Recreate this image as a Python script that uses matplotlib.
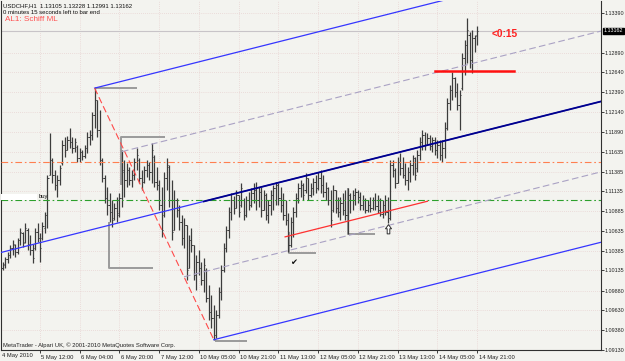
import matplotlib
matplotlib.use("Agg")
import matplotlib.pyplot as plt
import matplotlib.transforms as mtrans
from matplotlib.patches import Rectangle
from matplotlib.path import Path
import numpy as np

plt.rcParams['font.family'] = ['Liberation Sans', 'DejaVu Sans']

# ---------------- data (USDCHF H1 bars) ----------------
opens = [1.1017, 1.1020, 1.1028, 1.1033, 1.1042, 1.1046, 1.1037, 1.1052, 1.1061, 1.1050,
         1.1065, 1.1047, 1.1039, 1.1042, 1.1062, 1.1055, 1.1055, 1.1067, 1.1084, 1.1134,
         1.1153, 1.1134, 1.1122, 1.1128, 1.1149, 1.1172, 1.1166, 1.1178, 1.1176, 1.1168,
         1.1170, 1.1156, 1.1163, 1.1158, 1.1168, 1.1182, 1.1185, 1.1210, 1.1229, 1.1191,
         1.1153, 1.1130, 1.1105, 1.1096, 1.1087, 1.1080, 1.1092, 1.1086, 1.1105, 1.1138,
         1.1128, 1.1141, 1.1128, 1.1134, 1.1151, 1.1153, 1.1130, 1.1125, 1.1141, 1.1147,
         1.1138, 1.1157, 1.1125, 1.1122, 1.1096, 1.1084, 1.1130, 1.1144, 1.1103, 1.1065,
         1.1103, 1.1090, 1.1075, 1.1055, 1.1071, 1.1017, 1.1052, 1.1046, 1.1008, 1.1024,
         1.1017, 1.1002, 1.1014, 1.0979, 1.0961, 1.0954, 1.0932, 1.0957, 1.0986, 1.1014,
         1.1042, 1.1065, 1.1087, 1.1103, 1.1093, 1.1109, 1.1096, 1.1103, 1.1084, 1.1103,
         1.1096, 1.1111, 1.1115, 1.1103, 1.1113, 1.1090, 1.1109, 1.1084, 1.1096, 1.1109,
         1.1118, 1.1122, 1.1105, 1.1096, 1.1084, 1.1077, 1.1046, 1.1075, 1.1087, 1.1105,
         1.1118, 1.1122, 1.1115, 1.1130, 1.1109, 1.1118, 1.1125, 1.1118, 1.1130, 1.1122,
         1.1113, 1.1118, 1.1103, 1.1090, 1.1115, 1.1092, 1.1087, 1.1099, 1.1090, 1.1084,
         1.1109, 1.1103, 1.1109, 1.1113, 1.1106, 1.1096, 1.1103, 1.1090, 1.1096, 1.1092,
         1.1103, 1.1095, 1.1090, 1.1085, 1.1096, 1.1087, 1.1080, 1.1147, 1.1141, 1.1124,
         1.1151, 1.1143, 1.1134, 1.1128, 1.1138, 1.1147, 1.1156, 1.1143, 1.1160, 1.1176,
         1.1185, 1.1172, 1.1181, 1.1171, 1.1178, 1.1166, 1.1172, 1.1160, 1.1168, 1.1194,
         1.1225, 1.1242, 1.1257, 1.1239, 1.1223, 1.1244, 1.1282, 1.1299, 1.1311, 1.1280,
         1.1307, 1.13105]
highs = [1.1024, 1.1031, 1.1037, 1.1046, 1.1052, 1.1047, 1.1055, 1.1067, 1.1062, 1.1074,
         1.1067, 1.1058, 1.1047, 1.1067, 1.1074, 1.1061, 1.1075, 1.1087, 1.1134, 1.1187,
         1.1156, 1.1141, 1.1134, 1.1147, 1.1178, 1.1182, 1.1184, 1.1194, 1.1182, 1.1181,
         1.1172, 1.1168, 1.1166, 1.1172, 1.1189, 1.1191, 1.1214, 1.1244, 1.1229, 1.1216,
         1.1156, 1.1134, 1.1119, 1.1111, 1.1103, 1.1099, 1.1106, 1.1111, 1.1166, 1.1153,
         1.1149, 1.1144, 1.1141, 1.1156, 1.1168, 1.1156, 1.1141, 1.1146, 1.1153, 1.1151,
         1.1175, 1.1160, 1.1144, 1.1128, 1.1119, 1.1138, 1.1156, 1.1147, 1.1128, 1.1115,
         1.1105, 1.1096, 1.1084, 1.1080, 1.1071, 1.1058, 1.1067, 1.1046, 1.1033, 1.1039,
         1.1024, 1.1029, 1.1017, 1.0995, 1.0983, 1.0970, 1.0964, 1.0993, 1.1020, 1.1048,
         1.1070, 1.1094, 1.1111, 1.1108, 1.1115, 1.1109, 1.1124, 1.1105, 1.1108, 1.1113,
         1.1118, 1.1124, 1.1125, 1.1119, 1.1119, 1.1115, 1.1111, 1.1103, 1.1115, 1.1122,
         1.1125, 1.1124, 1.1119, 1.1111, 1.1103, 1.1086, 1.1081, 1.1094, 1.1111, 1.1124,
         1.1128, 1.1124, 1.1137, 1.1130, 1.1124, 1.1130, 1.1134, 1.1138, 1.1141, 1.1134,
         1.1125, 1.1119, 1.1115, 1.1122, 1.1115, 1.1106, 1.1106, 1.1111, 1.1115, 1.1118,
         1.1111, 1.1115, 1.1118, 1.1115, 1.1113, 1.1109, 1.1105, 1.1103, 1.1106, 1.1106,
         1.1111, 1.1109, 1.1105, 1.1103, 1.1109, 1.1106, 1.1153, 1.1153, 1.1143, 1.1157,
         1.1162, 1.1157, 1.1149, 1.1144, 1.1153, 1.1160, 1.1157, 1.1166, 1.1182, 1.1191,
         1.1189, 1.1187, 1.1185, 1.1182, 1.1182, 1.1178, 1.1178, 1.1178, 1.1201, 1.1232,
         1.1248, 1.1264, 1.1258, 1.1251, 1.1242, 1.1288, 1.1305, 1.1333, 1.1315, 1.1318,
         1.1311, 1.13228]
lows = [1.1014, 1.1017, 1.1023, 1.1029, 1.1033, 1.1031, 1.1034, 1.1046, 1.1043, 1.1048,
        1.1039, 1.1033, 1.1023, 1.1039, 1.1050, 1.1024, 1.1052, 1.1061, 1.1067, 1.1134,
        1.1124, 1.1115, 1.1106, 1.1122, 1.1147, 1.1157, 1.1166, 1.1168, 1.1162, 1.1163,
        1.1151, 1.1151, 1.1153, 1.1156, 1.1162, 1.1172, 1.1178, 1.1194, 1.1182, 1.1147,
        1.1125, 1.1099, 1.1084, 1.1075, 1.1068, 1.1077, 1.1075, 1.1081, 1.1094, 1.1106,
        1.1119, 1.1122, 1.1119, 1.1128, 1.1141, 1.1124, 1.1115, 1.1124, 1.1132, 1.1128,
        1.1124, 1.1119, 1.1115, 1.1090, 1.1056, 1.1081, 1.1115, 1.1094, 1.1052, 1.1065,
        1.1081, 1.1065, 1.1046, 1.1042, 1.1002, 1.1017, 1.1037, 1.1002, 1.0989, 1.1008,
        1.0995, 1.0986, 1.0974, 1.0951, 1.0941, 1.0926, 1.0928, 1.0954, 1.0976, 1.1012,
        1.1037, 1.1055, 1.1077, 1.1085, 1.1093, 1.1081, 1.1094, 1.1077, 1.1081, 1.1090,
        1.1094, 1.1099, 1.1090, 1.1094, 1.1081, 1.1090, 1.1077, 1.1074, 1.1084, 1.1090,
        1.1096, 1.1096, 1.1087, 1.1077, 1.1071, 1.1037, 1.1043, 1.1056, 1.1081, 1.1099,
        1.1106, 1.1103, 1.1111, 1.1103, 1.1106, 1.1109, 1.1111, 1.1115, 1.1111, 1.1106,
        1.1103, 1.1096, 1.1068, 1.1087, 1.1086, 1.1081, 1.1077, 1.1084, 1.1077, 1.1060,
        1.1086, 1.1090, 1.1096, 1.1099, 1.1090, 1.1090, 1.1086, 1.1087, 1.1087, 1.1090,
        1.1090, 1.1086, 1.1082, 1.1080, 1.1084, 1.1074, 1.1077, 1.1132, 1.1118, 1.1124,
        1.1134, 1.1130, 1.1122, 1.1115, 1.1125, 1.1134, 1.1128, 1.1138, 1.1153, 1.1166,
        1.1166, 1.1172, 1.1166, 1.1163, 1.1160, 1.1156, 1.1153, 1.1151, 1.1156, 1.1191,
        1.1216, 1.1229, 1.1233, 1.1216, 1.1191, 1.1242, 1.1261, 1.1276, 1.1270, 1.1263,
        1.1290, 1.12991]
closes = [1.1022, 1.1028, 1.1033, 1.1042, 1.1047, 1.1037, 1.1052, 1.1062, 1.1048, 1.1067,
          1.1046, 1.1039, 1.1029, 1.1062, 1.1055, 1.1042, 1.1070, 1.1084, 1.1130, 1.1153,
          1.1134, 1.1122, 1.1128, 1.1143, 1.1172, 1.1166, 1.1178, 1.1176, 1.1168, 1.1176,
          1.1156, 1.1163, 1.1158, 1.1168, 1.1182, 1.1185, 1.1210, 1.1229, 1.1191, 1.1153,
          1.1130, 1.1105, 1.1096, 1.1087, 1.1077, 1.1092, 1.1084, 1.1105, 1.1141, 1.1128,
          1.1141, 1.1128, 1.1134, 1.1151, 1.1160, 1.1130, 1.1125, 1.1141, 1.1147, 1.1138,
          1.1166, 1.1125, 1.1122, 1.1096, 1.1065, 1.1130, 1.1147, 1.1103, 1.1062, 1.1103,
          1.1090, 1.1075, 1.1055, 1.1071, 1.1014, 1.1052, 1.1046, 1.1008, 1.1024, 1.1017,
          1.1002, 1.1020, 1.0979, 1.0961, 1.0954, 1.0932, 1.0957, 1.0986, 1.1014, 1.1042,
          1.1065, 1.1087, 1.1103, 1.1093, 1.1109, 1.1087, 1.1118, 1.1084, 1.1103, 1.1096,
          1.1111, 1.1115, 1.1103, 1.1113, 1.1090, 1.1109, 1.1084, 1.1096, 1.1109, 1.1118,
          1.1122, 1.1105, 1.1096, 1.1084, 1.1077, 1.1046, 1.1075, 1.1087, 1.1105, 1.1118,
          1.1122, 1.1109, 1.1130, 1.1109, 1.1118, 1.1125, 1.1118, 1.1130, 1.1122, 1.1113,
          1.1118, 1.1103, 1.1077, 1.1115, 1.1092, 1.1087, 1.1099, 1.1090, 1.1084, 1.1109,
          1.1103, 1.1109, 1.1113, 1.1106, 1.1096, 1.1103, 1.1090, 1.1096, 1.1092, 1.1103,
          1.1095, 1.1090, 1.1085, 1.1096, 1.1087, 1.1080, 1.1147, 1.1141, 1.1124, 1.1151,
          1.1143, 1.1134, 1.1128, 1.1138, 1.1147, 1.1156, 1.1134, 1.1160, 1.1176, 1.1185,
          1.1172, 1.1181, 1.1171, 1.1178, 1.1166, 1.1172, 1.1160, 1.1168, 1.1194, 1.1225,
          1.1242, 1.1257, 1.1239, 1.1223, 1.1235, 1.1282, 1.1299, 1.1318, 1.1280, 1.1307,
          1.1310, 1.13162]

time_tick_bars = [15, 31, 47, 63, 79, 95, 111, 127, 143, 159, 175, 191]
time_tick_labels = ['5 May 12:00', '6 May 04:00', '6 May 20:00', '7 May 12:00',
                    '10 May 05:00', '10 May 21:00', '11 May 13:00', '12 May 05:00',
                    '12 May 21:00', '13 May 13:00', '14 May 05:00', '14 May 21:00']
first_date_label = '4 May 2010'
price_ticks = [1.13390, 1.12890, 1.12640, 1.12390, 1.12140, 1.11890, 1.11635, 1.11385,
               1.11135, 1.10885, 1.10635, 1.10385, 1.10135, 1.09880, 1.09630, 1.09380,
               1.09130]

# chart objects (bar index, price)
pf_bars = [37, 85]                 # pitchfork pivot high / pivot low
pf_prices = [1.1244, 1.0926]
pf_origin = (-20, 1.1021)          # Schiff median-line origin
half_line_start = [48, 73]         # warning lines (upper, lower)
navy_start = 81
orange_level = 1.1150
green_level = 1.1102
red_trend_bars = [113.7, 171]
red_trend_prices = [1.1056, 1.1101]
red_level_bars = [174, 206]
red_level = 1.1265
brackets = [
    ([37, 54], [1.1244, 1.1244]),
    ([47.6, 47.6, 65.3], [1.1122, 1.1182, 1.1182]),
    ([42.8, 42.8, 60.5], [1.1075, 1.1017, 1.1017]),
    ([85.5, 98.4], [1.0924, 1.0924]),
    ([115.3, 115.3, 126.2], [1.1062, 1.1036, 1.1036]),
    ([139, 139, 150], [1.1118, 1.1060, 1.1060]),
]
check_mark = (116.9, 1.1023)
up_arrow = (155.2, 1.1066)
buy_box = (-0.7, 13.8, 1.1103, 1.1110)
buy_text = (14.6, 1.1107)
timer_pos = (197, 1.1312)

# ---------------- figure ----------------
BG = '#f3f3ef'
fig = plt.figure(figsize=(6.25, 3.61), dpi=100, facecolor=BG)
ax = fig.add_axes([1 / 625, 11 / 361, 600 / 625, 349 / 361], facecolor=BG)
ax.set_xlim(-0.7, 240.9)
ax.set_ylim(1.0913, 1.13541)
x0, x1 = ax.get_xlim()

# grid
ax.set_axisbelow(True)
ax.grid(True, color='#e4c6c6', lw=0.5, ls=(0, (1, 2)))

# bars
idx = np.arange(len(closes))
bar_c = '#3c3c3c'
ax.vlines(idx, lows, highs, color=bar_c, lw=0.9, zorder=3)
ax.hlines(opens, idx - 0.5, idx, color=bar_c, lw=0.7, zorder=3)
ax.hlines(closes, idx, idx + 0.5, color=bar_c, lw=0.7, zorder=3)

# horizontal levels
ax.axhline(closes[-1], color='#c8c4c8', lw=0.8, zorder=2)
ax.axhline(orange_level, color='#ff7f50', lw=0.8, ls=(0, (6, 2.5, 1.5, 2.5)), zorder=4)
ax.axhline(green_level, color='#2ca02c', lw=0.8, ls=(0, (6, 2.5, 1.5, 2.5)), zorder=4)

# pitchfork
ox, op = pf_origin
mx = (pf_bars[0] + pf_bars[1]) / 2
mp = (pf_prices[0] + pf_prices[1]) / 2
slope = (mp - op) / (mx - ox)


def med(x):
    return op + slope * (x - ox)


up_off = pf_prices[0] - med(pf_bars[0])
lo_off = pf_prices[1] - med(pf_bars[1])
blue = '#3535ff'
ax.plot([x0, x1], [med(x0), med(x1)], color=blue, lw=0.9, zorder=5)
ax.plot([navy_start, x1], [med(navy_start), med(x1)], color='#00008b', lw=1.3, zorder=5)
ax.plot([pf_bars[0], x1], [pf_prices[0], med(x1) + up_off], color=blue, lw=0.9, zorder=5)
ax.plot([pf_bars[1], x1], [pf_prices[1], med(x1) + lo_off], color=blue, lw=0.9, zorder=5)
for s, off in zip(half_line_start, [up_off / 2, lo_off / 2]):
    ax.plot([s, x1], [med(s) + off, med(x1) + off], color='#aaa2c4', lw=0.8,
            ls=(0, (6, 3)), zorder=4)
ax.plot(pf_bars, pf_prices, color='#ff4a4a', lw=0.8, ls=(0, (6, 3)), zorder=5)

# red objects
ax.plot(red_trend_bars, red_trend_prices, color='#ff3030', lw=0.9, zorder=5)
ax.plot(red_level_bars, [red_level, red_level], color='#ff1010', lw=1.8, zorder=5)

# gray brackets
for bx, bp in brackets:
    ax.plot(bx, bp, color='#9a9a9a', lw=1.4, zorder=2.5, solid_capstyle='butt')

# markers
ax.text(check_mark[0], check_mark[1], '\u2714', fontsize=6, ha='center', va='center',
        color='#101010', family='DejaVu Sans', zorder=6)
arrow_path = Path([(0, 1), (-0.62, 0.15), (-0.27, 0.15), (-0.27, -0.9), (0.27, -0.9),
                   (0.27, 0.15), (0.62, 0.15), (0, 1)],
                  [Path.MOVETO] + [Path.LINETO] * 6 + [Path.CLOSEPOLY])
ax.plot([up_arrow[0]], [up_arrow[1]], marker=arrow_path, markersize=7,
        markerfacecolor='white', markeredgecolor='#303030', markeredgewidth=0.7,
        linestyle='none', zorder=6)

# buy label
ax.add_patch(Rectangle((buy_box[0], buy_box[2]), buy_box[1] - buy_box[0],
                       buy_box[3] - buy_box[2], facecolor='white', edgecolor='none',
                       zorder=6, clip_on=True))
ax.text(buy_text[0], buy_text[1], 'buy', fontsize=4.2, ha='left', va='center',
        color='#101010', zorder=6)

# timer text
ax.text(timer_pos[0], timer_pos[1], '<0:15', fontsize=7.3, ha='left', va='center',
        color='#ff2020', fontweight='bold', zorder=6)

# axes styling
for side in ['left', 'right', 'bottom']:
    ax.spines[side].set_color('#303030')
    ax.spines[side].set_linewidth(0.8)
ax.spines['top'].set_visible(False)

ax.yaxis.tick_right()
ax.set_yticks(price_ticks)
ax.set_yticklabels([f'{v:.5f}' for v in price_ticks])
ax.tick_params(axis='y', length=2, width=0.6, pad=0.8, labelsize=3.9,
               colors='#202020')
ax.set_xticks(time_tick_bars)
ax.set_xticklabels(time_tick_labels)
ax.tick_params(axis='x', length=2.5, width=0.6, pad=1.0, labelsize=4.2, colors='#202020')
offset = mtrans.ScaledTranslation(1.5 / 100, 0, fig.dpi_scale_trans)
for lab in ax.get_xticklabels():
    lab.set_horizontalalignment('left')
    lab.set_transform(lab.get_transform() + offset)

fig.text(2 / 625, 1 - 356 / 361, first_date_label, fontsize=4.2, ha='left',
         va='center', color='#202020')

# current price box
tr = mtrans.blended_transform_factory(ax.transAxes, ax.transData)
ax.text(1.005, closes[-1], f'{closes[-1]:.5f}', transform=tr, ha='left', va='center',
        fontsize=3.9, color='white', clip_on=False, zorder=10,
        bbox=dict(boxstyle='square,pad=0.12', facecolor='black', edgecolor='black'))

# header / footer texts
fig.text(3 / 625, 1 - 6 / 361,
         f'USDCHF,H1  {opens[-1]:.5f} {highs[-1]:.5f} {lows[-1]:.5f} {closes[-1]:.5f}',
         fontsize=4.3, ha='left', va='center', color='#101010')
fig.text(3 / 625, 1 - 12.5 / 361, '0 minutes 15 seconds left to bar end', fontsize=4.3,
         ha='left', va='center', color='#101010')
fig.text(5 / 625, 1 - 19.5 / 361, 'AL1: Schiff ML', fontsize=5.9, ha='left',
         va='center', color='#ff5050')
fig.text(3 / 625, 1 - 345 / 361,
         'MetaTrader - Alpari UK, \u00a9 2001-2010 MetaQuotes Software Corp.',
         fontsize=4.2, ha='left', va='center', color='#202020')

fig.savefig('out.png', dpi=100, facecolor=BG)
